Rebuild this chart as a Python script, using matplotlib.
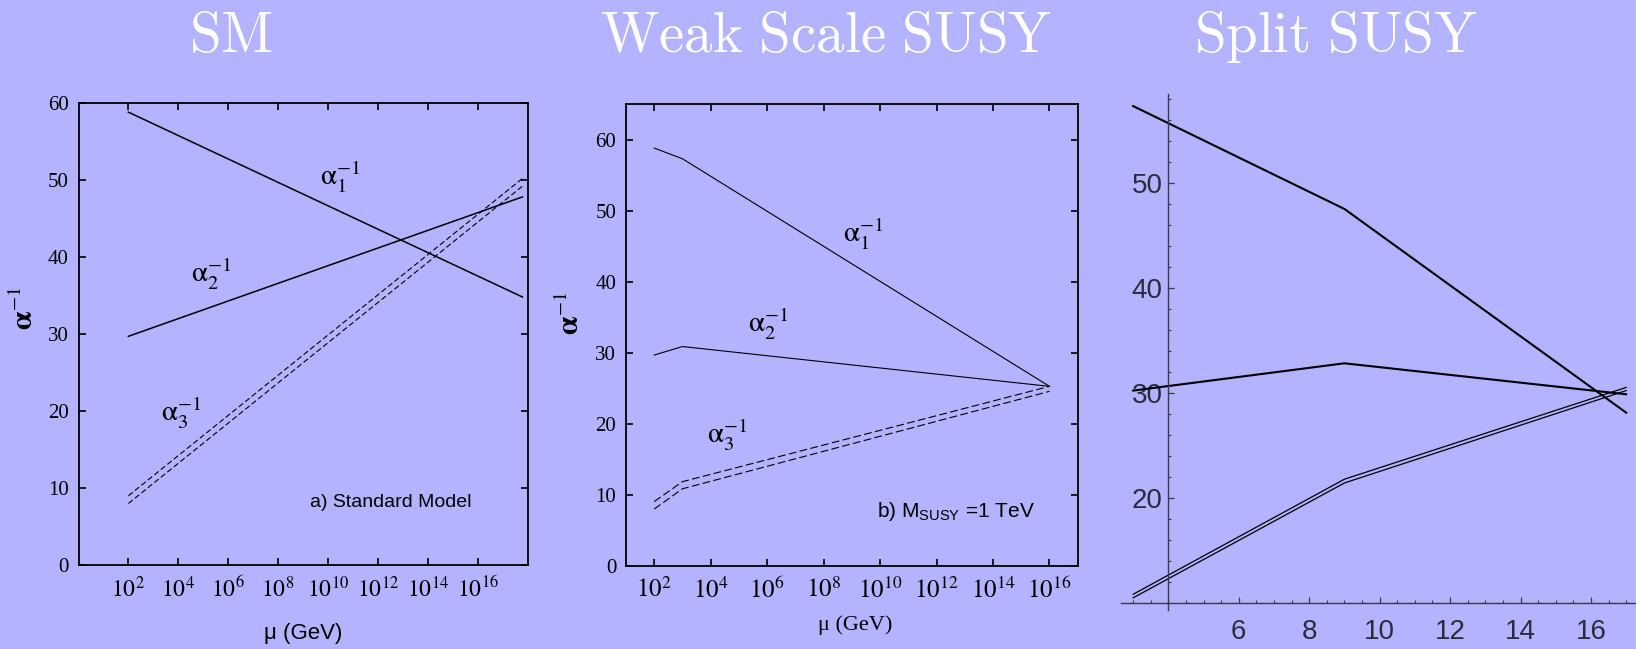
import numpy as np
import matplotlib.pyplot as plt
from matplotlib.ticker import NullLocator

BG = '#b3b3ff'
SERIF = ['Liberation Serif', 'DejaVu Serif']
SANS = ['Liberation Sans', 'DejaVu Sans']

plt.rcParams['mathtext.fontset'] = 'stix'
plt.rcParams['mathtext.rm'] = 'Liberation Sans'
plt.rcParams['mathtext.it'] = 'Liberation Sans:italic'
plt.rcParams['mathtext.bf'] = 'Liberation Sans:bold'

# a) Standard Model, x = log10(mu / GeV)
sm_logmu = [2, 17.8]
sm_a1 = [58.8, 34.8]
sm_a2 = [29.7, 47.8]
sm_a3_hi = [9.0, 50.2]
sm_a3_lo = [8.0, 49.2]

# b) M_SUSY = 1 TeV
susy_logmu = [2, 3, 16]
susy_a1 = [58.8, 57.3, 25.3]
susy_a2 = [29.7, 30.9, 25.3]
susy_a3_hi = [9.1, 11.9, 25.3]
susy_a3_lo = [8.05, 10.9, 24.6]

# split SUSY
split_logmu = [3, 9, 17]
split_a1 = [57.3, 47.5, 28.1]
split_a2 = [30.2, 32.8, 29.85]
split_a3_hi = [10.8, 21.76, 30.5]
split_a3_lo = [10.46, 21.4, 30.2]

decades = [2, 4, 6, 8, 10, 12, 14, 16]
y_ticks = [0, 10, 20, 30, 40, 50, 60]
split_xticks = [6, 8, 10, 12, 14, 16]
split_yticks = [20, 30, 40, 50]

W, H = 1636, 649
fig = plt.figure(figsize=(W / 100, H / 100), dpi=100, facecolor=BG)


def px(x0, y0, x1, y1):
    return [x0 / W, 1 - y1 / H, (x1 - x0) / W, (y1 - y0) / H]


def framed(ax, xlim, ylim, xfs):
    ax.set_facecolor('none')
    ax.set_xscale('log')
    ax.set_xlim(*xlim)
    ax.set_ylim(*ylim)
    ax.xaxis.set_minor_locator(NullLocator())
    ax.set_xticks([10.0 ** d for d in decades])
    ax.set_xticklabels([r'$\mathrm{10}^{%d}$' % d for d in decades], fontsize=xfs)
    ax.set_yticks(y_ticks)
    ax.set_yticklabels([str(v) for v in y_ticks], fontsize=15, family=SERIF)
    ax.tick_params(direction='in', top=True, right=True, length=5, width=1.2)
    ax.tick_params(axis='x', pad=8)
    ax.tick_params(axis='y', pad=7)
    for s in ax.spines.values():
        s.set_linewidth(1.3)


def mu(v):
    return 10.0 ** np.asarray(v)


def alpha(i):
    return r'$\mathrm{\alpha}_{\mathrm{%d}}^{-1}$' % i


# ---- SM panel
ax1 = fig.add_axes(px(78.5, 102.9, 527.5, 565.1))
framed(ax1, (1, 1e18), (0, 60), 17)
ax1.plot(mu(sm_logmu), sm_a1, color='black', lw=1.1)
ax1.plot(mu(sm_logmu), sm_a2, color='black', lw=1.1)
ax1.plot(mu(sm_logmu), sm_a3_hi, color='black', lw=0.8, dashes=(5, 2.5))
ax1.plot(mu(sm_logmu), sm_a3_lo, color='black', lw=0.8, dashes=(5, 2.5))
ax1.text(10 ** 10.5, 50.4, alpha(1), fontsize=21, ha='center', va='center')
ax1.text(10 ** 5.3, 37.8, alpha(2), fontsize=21, ha='center', va='center')
ax1.text(10 ** 4.1, 19.7, alpha(3), fontsize=21, ha='center', va='center')
ax1.text(10 ** 12.5, 8.1, 'a) Standard Model', fontsize=14, family=SANS,
         ha='center', va='center')

# ---- weak scale SUSY panel
ax2 = fig.add_axes(px(626, 104, 1077.7, 566.3))
framed(ax2, (1e1, 1e17), (0, 65), 18)
ax2.plot(mu(susy_logmu), susy_a1, color='black', lw=0.8)
ax2.plot(mu(susy_logmu), susy_a2, color='black', lw=0.8)
ax2.plot(mu(susy_logmu), susy_a3_hi, color='black', lw=0.8, dashes=(7, 3))
ax2.plot(mu(susy_logmu), susy_a3_lo, color='black', lw=0.8, dashes=(7, 3))
ax2.text(10 ** 9.4, 46.8, alpha(1), fontsize=21, ha='center', va='center')
ax2.text(10 ** 6.05, 34.1, alpha(2), fontsize=21, ha='center', va='center')
ax2.text(10 ** 4.6, 18.5, alpha(3), fontsize=21, ha='center', va='center')
ax2.text(10 ** 12.7, 7.7, r'b) $\mathrm{M}_{\mathrm{SUSY}}$ =1 TeV', fontsize=15,
         family=SANS, math_fontfamily='custom', ha='center', va='center')

# ---- split SUSY panel (axes crossing at (4, 10))
ax3 = fig.add_axes(px(1120.5, 93.8, 1636, 610))
ax3.set_facecolor('none')
ax3.set_xlim(2.64, 17.28)
ax3.set_ylim(9.3, 58.47)
ax3.plot(split_logmu, split_a1, color='black', lw=1.5)
ax3.plot(split_logmu, split_a2, color='black', lw=1.5)
ax3.plot(split_logmu, split_a3_hi, color='black', lw=0.9)
ax3.plot(split_logmu, split_a3_lo, color='black', lw=0.9)
for side in ('top', 'right'):
    ax3.spines[side].set_visible(False)
ax3.spines['left'].set_position(('data', 4))
ax3.spines['bottom'].set_position(('data', 10))
for side in ('left', 'bottom'):
    ax3.spines[side].set_color('#3a3a4a')
    ax3.spines[side].set_linewidth(1.0)
ax3.set_xticks(split_xticks)
ax3.set_xticks(np.arange(3, 17.5, 0.5), minor=True)
ax3.set_yticks(split_yticks)
ax3.set_yticks(np.arange(12, 58.5, 2), minor=True)
ax3.set_xticklabels([str(v) for v in split_xticks], fontsize=20, family=SANS,
                    color='#2b2b3d')
ax3.set_yticklabels([str(v) for v in split_yticks], fontsize=20, family=SANS,
                    color='#2b2b3d')
ax3.tick_params(direction='in', which='major', length=4, width=0.9, color='#3a3a4a')
ax3.tick_params(direction='in', which='minor', length=2.5, width=0.8, color='#3a3a4a')
ax3.tick_params(axis='x', which='major', pad=12)
ax3.tick_params(axis='y', which='major', pad=4)

# ---- axis labels and titles
fig.text(25 / W, 1 - 308 / H, r'$\mathbf{\alpha}^{-1}$', fontsize=21, rotation=90,
         ha='center', va='center')
fig.text(571 / W, 1 - 313 / H, r'$\mathbf{\alpha}^{-1}$', fontsize=21, rotation=90,
         ha='center', va='center')
fig.text(303 / W, 1 - 634 / H, 'μ (GeV)', fontsize=16, family=SANS,
         ha='center', va='center')
fig.text(855 / W, 1 - 625 / H, 'μ (GeV)', fontsize=16, family=SERIF,
         ha='center', va='center')

for x, t in [(231, 'SM'), (826, 'Weak Scale SUSY'), (1336, 'Split SUSY')]:
    fig.text(x / W, 1 - 51.7 / H, r'$\mathrm{%s}$' % t.replace(' ', r'\ '),
             fontsize=41, color='white', math_fontfamily='cm',
             ha='center', va='baseline')

fig.savefig('out.png', dpi=100, facecolor=BG)
